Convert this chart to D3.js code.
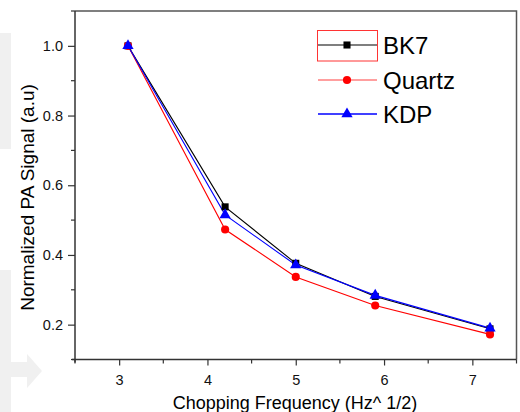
<!DOCTYPE html>
<html>
<head>
<meta charset="utf-8">
<script src="https://cdn.jsdelivr.net/npm/d3@7"></script>
<style>
  html, body { margin: 0; padding: 0; background: #fff; }
  svg { display: block; font-family: "Liberation Sans", Arial, sans-serif; }
</style>
</head>
<body>
<svg id="chart" width="520" height="412"></svg>
<script>
// Chopping frequency (Hz^1/2) and normalized photoacoustic signal per sample
const frequency = [3.1, 4.2, 5.0, 5.9, 7.2];
const bk7 = [1.0, 0.538, 0.376, 0.281, 0.188];
const quartz = [1.0, 0.473, 0.337, 0.255, 0.172];
const kdp = [1.0, 0.515, 0.371, 0.284, 0.190];
const seriesNames = ["BK7", "Quartz", "KDP"];
const xTicks = [3, 4, 5, 6, 7];
const yTicks = [0.2, 0.4, 0.6, 0.8, 1.0];

const series = [
  { name: seriesNames[0], values: bk7, color: "#000000", shape: d3.symbolSquare, size: 50 },
  { name: seriesNames[1], values: quartz, color: "#ff0000", shape: d3.symbolCircle, size: 52 },
  { name: seriesNames[2], values: kdp, color: "#0000ff", shape: d3.symbolTriangle, size: 55 }
];

const svg = d3.select("#chart");
const plotLeft = 75, plotRight = 516.5, plotTop = 11, plotBottom = 359.5;

// Background decorations along the left edge
svg.append("rect").attr("x", 0).attr("y", 33).attr("width", 11).attr("height", 116).attr("fill", "#f0f0f0");
svg.append("rect").attr("x", 0).attr("y", 270).attr("width", 11).attr("height", 142).attr("fill", "#f0f0f0");
svg.append("path")
  .attr("d", "M11,362 L27,362 L27,354 L42,371 L27,388 L27,377 L11,377 Z")
  .attr("fill", "#f0f0f0");

const x = d3.scaleLinear().domain([2.5, 7.5]).range([plotLeft, plotRight]);
const y = d3.scaleLinear().domain([0.1, 1.1]).range([plotBottom, plotTop]);

// Frame: top and right edges
svg.append("path")
  .attr("d", `M${plotLeft},${plotTop}H${plotRight}V${plotBottom}`)
  .attr("fill", "none").attr("stroke", "#555").attr("stroke-width", 1.5);

const xMinor = d3.range(2.5, 7.51, 0.5).filter(v => Math.abs(v - Math.round(v)) > 0.01);
const yMinor = d3.range(0.1, 1.11, 0.2);

// X axis
const gx = svg.append("g").attr("transform", `translate(0,${plotBottom})`);
gx.call(d3.axisBottom(x).tickValues(xTicks).tickFormat(d3.format("d")).tickSize(6).tickSizeOuter(0).tickPadding(9));
gx.append("g").selectAll("line").data(xMinor).join("line")
  .attr("x1", d => x(d)).attr("x2", d => x(d)).attr("y1", 0).attr("y2", 4)
  .attr("stroke", "#333").attr("stroke-width", 1.2);

// Y axis
const gy = svg.append("g").attr("transform", `translate(${plotLeft},0)`);
gy.call(d3.axisLeft(y).tickValues(yTicks).tickFormat(d3.format(".1f")).tickSize(7).tickSizeOuter(0).tickPadding(5));
gy.append("g").selectAll("line").data(yMinor).join("line")
  .attr("y1", d => y(d)).attr("y2", d => y(d)).attr("x1", 0).attr("x2", -4)
  .attr("stroke", "#333").attr("stroke-width", 1.2);

[gx, gy].forEach(g => {
  g.select(".domain").attr("stroke", "#333").attr("stroke-width", 1.5);
  g.selectAll(".tick line").attr("stroke", "#333").attr("stroke-width", 1.2);
  g.selectAll(".tick text").attr("fill", "#111").attr("font-size", 14.5)
    .attr("font-family", "Liberation Sans, Arial, sans-serif");
});
gx.select(".domain").attr("d", `M${plotLeft - 3},0H${plotRight}`);
gy.select(".domain").attr("d", `M0,${plotTop}V${plotBottom + 3}`);

// Axis titles
svg.append("text")
  .attr("x", 295).attr("y", 409)
  .attr("text-anchor", "middle").attr("font-size", 18).attr("fill", "#000")
  .text("Chopping Frequency (Hz^ 1/2)");
svg.append("text")
  .attr("transform", `translate(33.5,197.5) rotate(-90)`)
  .attr("text-anchor", "middle").attr("font-size", 19).attr("fill", "#000")
  .text("Normalized PA Signal (a.u)");

// Series lines and markers
const line = d3.line().x((d, i) => x(frequency[i])).y(d => y(d));
series.forEach(s => {
  svg.append("path").datum(s.values)
    .attr("d", line).attr("fill", "none")
    .attr("stroke", s.color).attr("stroke-width", 1.1);
});
series.forEach(s => {
  svg.append("g").selectAll("path").data(s.values).join("path")
    .attr("transform", (d, i) => `translate(${x(frequency[i])},${y(d)})`)
    .attr("d", d3.symbol().type(s.shape).size(s.size))
    .attr("fill", s.color);
});

// Legend
const legend = svg.append("g");
const legendRows = [45, 80, 114];
legend.append("rect")
  .attr("x", 317.5).attr("y", 30.5).attr("width", 60).attr("height", 30.5)
  .attr("fill", "none").attr("stroke", "#ff3333").attr("stroke-width", 1);
series.forEach((s, i) => {
  const ly = legendRows[i];
  legend.append("line").attr("x1", 318).attr("x2", 377).attr("y1", ly).attr("y2", ly)
    .attr("stroke", s.color).attr("stroke-width", i === 2 ? 2 : 1.2)
    .attr("stroke-opacity", i === 0 ? 1 : 0.75);
  legend.append("path").attr("transform", `translate(347,${ly})`)
    .attr("d", d3.symbol().type(s.shape).size(s.size)).attr("fill", s.color);
  legend.append("text").attr("x", 383).attr("y", ly + 8.5)
    .attr("font-size", 24).attr("fill", "#000").text(s.name);
});
</script>
</body>
</html>
